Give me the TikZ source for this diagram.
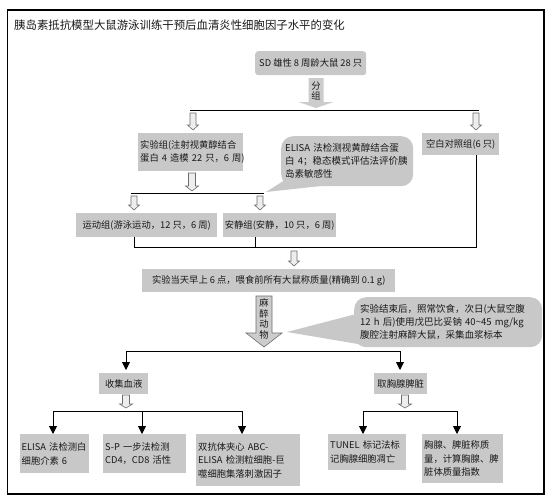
\documentclass[tikz,border=0pt]{standalone}
\usepackage{fontspec}
\setmainfont{Noto Sans CJK SC}
\usetikzlibrary{arrows.meta,calc}
\definecolor{boxgray}{RGB}{200,200,200}
\definecolor{arrgray}{RGB}{204,204,204}
\definecolor{edgegray}{RGB}{110,110,110}
\definecolor{txt}{RGB}{25,25,25}
\tikzset{
  pics/darrow/.style args={#1/#2/#3/#4/#5}{code={
    \path[#5] (-#1,0) -- (#1,0) -- (#1,#3) -- (#2,#3) -- (0,#4) -- (-#2,#3) -- (-#1,#3) -- cycle;
  }},
  hol/.style={draw=edgegray, fill=white!93!black, line width=0.6pt},
  blockA/.style={fill=arrgray},
  blockB/.style={fill=arrgray, draw=edgegray, line width=0.6pt},
}
\begin{document}
\begin{tikzpicture}[x=1pt,y=-1pt,
  every node/.style={text=txt},
  box/.style={fill=boxgray, inner sep=0pt, font=\fontsize{9.3}{13.5}\selectfont, anchor=north west, align=center},
  lbox/.style={box, align=left},
  callout/.style={fill=boxgray, rounded corners=12pt, inner sep=0pt, anchor=north west, align=left, font=\fontsize{9.5}{13}\selectfont},
  conn/.style={draw=black, line width=0.9pt},
  sarr/.style={conn, -{Triangle[width=8pt,length=8pt]}},
  atext/.style={font=\fontsize{9.3}{10.5}\selectfont, align=center, inner sep=0pt},
]
\useasboundingbox (0,0) rectangle (556,503);
\fill[white] (0,0) rectangle (556,503);
\draw[line width=1.2pt] (7.5,10) rectangle (544,494);

\node[anchor=west, inner sep=0pt, font=\fontsize{11.4}{14}\selectfont] (title) at (14,25) {胰岛素抵抗模型大鼠游泳训练干预后血清炎性细胞因子水平的变化};

% top
\node[box, minimum width=111, minimum height=24, rounded corners=3pt] (sd) at (255,51) {SD 雄性 8 周龄大鼠 28 只};
\pic at (316,78) {darrow=7.5/17.5/24/30/blockA};
\node[atext] (fz) at (316,91) {分\\组};

\coordinate (a1) at (190,110.5);
\coordinate (a2) at (479,110.5);
\draw[conn] (a1) -- (a2);
\pic at (193,113) {darrow=3/5.5/12/17/hol};
\pic at (476,113) {darrow=3/5.5/12/17/hol};

\node[lbox, minimum width=105, minimum height=38, text width=101, inner xsep=2] (exp) at (138,133) {实验组(注射视黄醇结合\\蛋白~4~造模~22~只，6~周)};
\node[box, minimum width=77, minimum height=22] (ctrl) at (422,133) {空白对照组(6 只)};

% callout 1
\coordinate (c1tip) at (266,192);
\fill[boxgray] (c1tip) -- (288,178) -- (330,185) -- cycle;
\node[callout, minimum width=132, minimum height=50, text width=124, inner xsep=4] (c1) at (281,136) {ELISA~法检测视黄醇结合蛋\\白~4；稳态模式评估法评价胰\\岛素敏感性};

\pic at (192,173) {darrow=3.5/6.5/13/18/hol};
\coordinate (b1) at (131,193.5);
\coordinate (b2) at (264,193.5);
\draw[conn] (b1) -- (b2);
\pic at (134,196) {darrow=3/5.5/9/14/hol};
\pic at (260,196) {darrow=3/5.5/9/14/hol};

\node[box, minimum width=141, minimum height=24] (run) at (76,213) {运动组(游泳运动，12 只，6 周)};
\node[box, minimum width=113, minimum height=24] (quiet) at (223,213) {安静组(安静，10 只，6 周)};

\coordinate (k1) at (134,247);
\coordinate (k2) at (255,247);
\coordinate (k3) at (476,247);
\draw[conn] (k1 |- run.south) -- (k1) -- (k3) -- (k3 |- ctrl.south);
\draw[conn] (k2 |- quiet.south) -- (k2);
\pic at (294,251) {darrow=3/5.5/10/15/hol};

\node[box, minimum width=253, minimum height=23] (day) at (142,269) {实验当天早上 6 点，喂食前所有大鼠称质量(精确到 0.1 g)};

\pic at (264,296) {darrow=8/18/37/51/blockB};
\node[atext] (mz) at (264,319) {麻\\醉\\动\\物};

% callout 2
\coordinate (c2tip) at (287,332);
\fill[boxgray] (c2tip) -- (360,313) -- (364,345) -- cycle;
\node[callout, minimum width=186, minimum height=50, text width=176, inner xsep=6] (c2) at (354,297) {实验结束后，照常饮食，次日(大鼠空腹\\12~h~后)使用戊巴比妥钠~40\textasciitilde 45~mg/kg\\腹腔注射麻醉大鼠，采集血浆标本};

\coordinate (m1) at (126,351);
\coordinate (m2) at (400,351);
\draw[conn] (m1) -- (m2);

\node[box, minimum width=49, minimum height=21] (blood) at (99,373) {收集血液};
\node[box, minimum width=53, minimum height=21] (thy) at (374,373) {取胸腺脾脏};
\draw[sarr, shorten >=3pt] (m1) -- (m1 |- blood.north);
\draw[sarr, shorten >=3pt] (m2) -- (m2 |- thy.north);

\pic at (126,395) {darrow=3.5/6.5/9/13/hol};
\pic at (405,395) {darrow=3.5/6.5/9/13/hol};

\node[lbox, minimum width=69, minimum height=39, text width=66, inner xsep=1.5] (e1) at (20,434) {ELISA~法检测白\\细胞介素~6};
\node[lbox, minimum width=83, minimum height=39, text width=79, inner xsep=2] (e2) at (103,434) {S-P~一步法检测\\CD4，CD8~活性};
\node[lbox, minimum width=104, minimum height=52, text width=100, inner xsep=2] (e3) at (196,434) {双抗体夹心~ABC-\\ELISA~检测粒细胞-巨\\噬细胞集落刺激因子};
\node[lbox, minimum width=78, minimum height=36, text width=74, inner xsep=2] (e4) at (328,434) {TUNEL~标记法标\\记胸腺细胞凋亡};
\node[lbox, minimum width=81, minimum height=49, text width=77, inner xsep=2] (e5) at (422,434) {胸腺、脾脏称质\\量，计算胸腺、脾\\脏体质量指数};

\coordinate (n1) at (53,411);
\coordinate (n2) at (142,411);
\coordinate (n3) at (242,411);
\draw[conn] (n1) -- (n3);
\draw[sarr] (n1) -- (n1 |- e1.north);
\draw[sarr] (n2) -- (n2 |- e2.north);
\draw[sarr] (n3) -- (n3 |- e3.north);

\coordinate (p1) at (363,411);
\coordinate (p2) at (457,411);
\draw[conn] (p1) -- (p2);
\draw[sarr] (p1) -- (p1 |- e4.north);
\draw[sarr] (p2) -- (p2 |- e5.north);
\end{tikzpicture}
\end{document}
